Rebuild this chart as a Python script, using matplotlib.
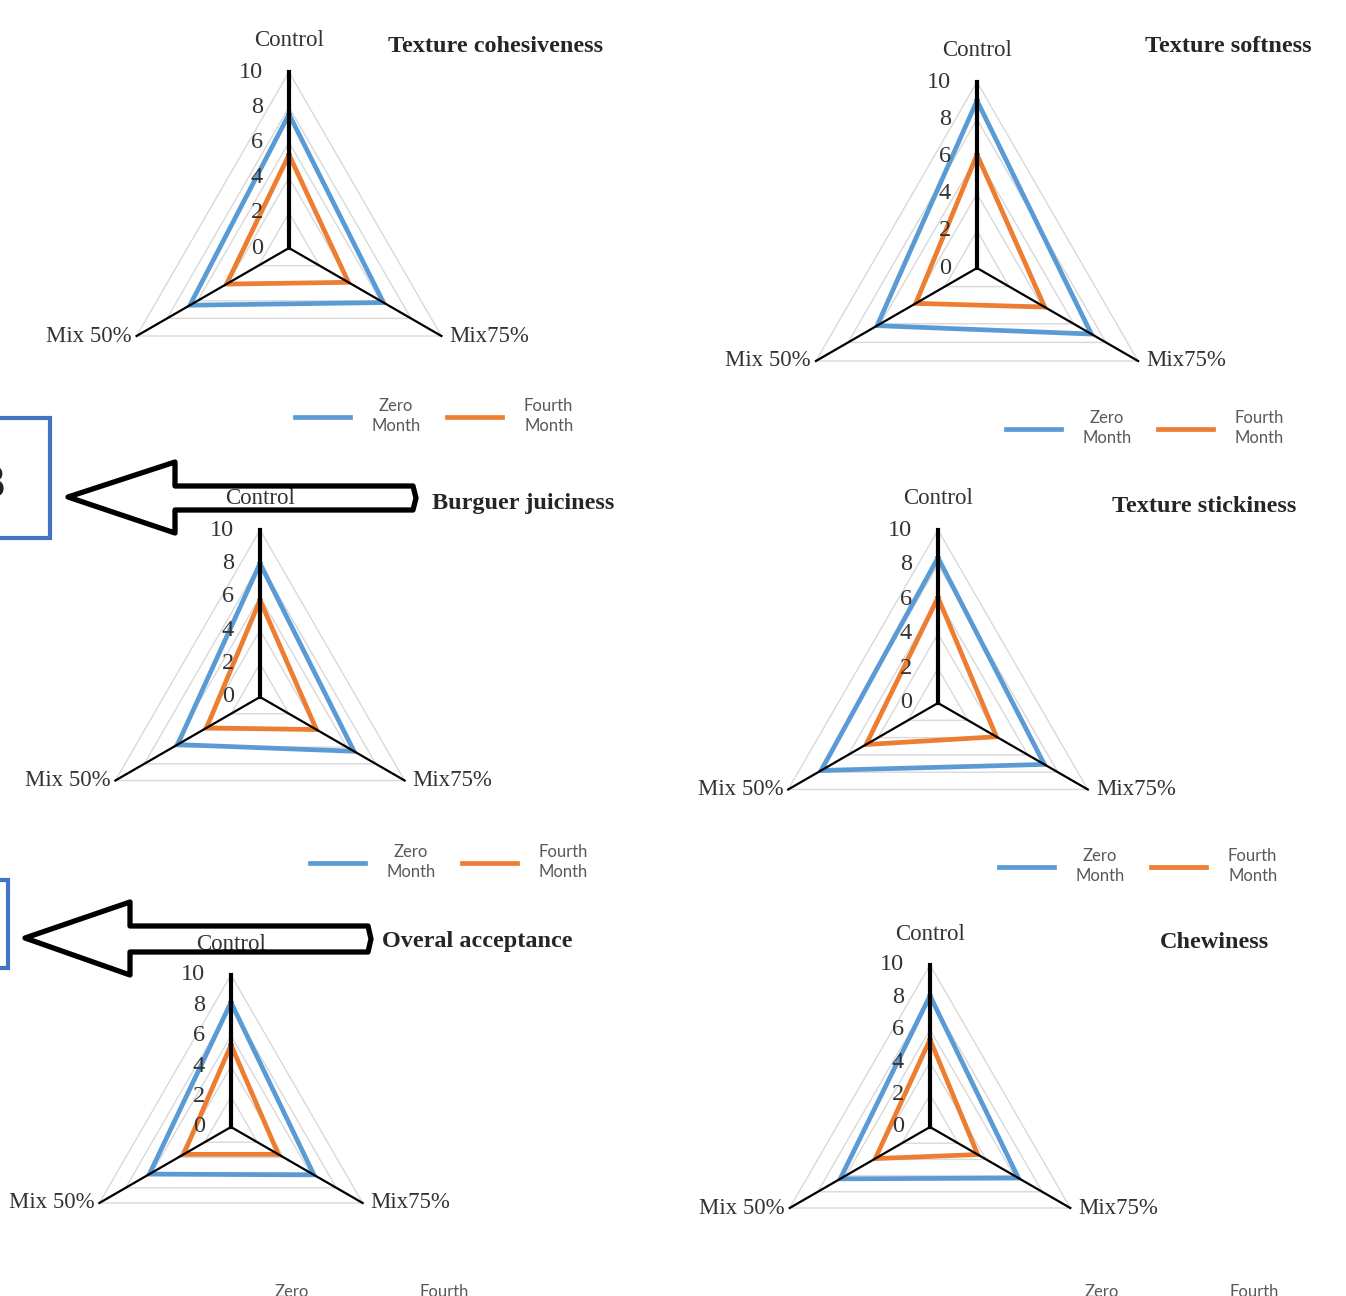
import numpy as np
import matplotlib.pyplot as plt
from matplotlib.patches import Polygon, Rectangle
from matplotlib.lines import Line2D

plt.rcParams['font.family'] = ['Liberation Serif', 'DejaVu Serif']

## Data ##
axis_labels = ['Control', 'Mix75%', 'Mix 50%']
ticks = [0, 2, 4, 6, 8, 10]
series_names = ['Zero\nMonth', 'Fourth\nMonth']
titles = ['Texture cohesiveness', 'Texture softness', 'Burguer juiciness',
          'Texture stickiness', 'Overal acceptance', 'Chewiness']
# values per panel: [Control, Mix75%, Mix 50%]
zero_month = [[7.6, 6.2, 6.5], [9.0, 7.1, 6.2], [8.0, 6.5, 5.7],
              [8.4, 7.1, 7.8], [8.2, 6.3, 6.2], [8.1, 6.3, 6.4]]
fourth_month = [[5.3, 3.9, 4.1], [6.1, 4.2, 3.8], [5.8, 3.9, 3.7],
                [6.1, 3.9, 4.8], [5.4, 3.6, 3.6], [5.4, 3.4, 3.9]]

## Layout (pixels, y from top) ##
W, H = 1346, 1296
centers = [(289, 248), (977, 268), (260, 697), (938, 703), (231, 1127), (930, 1127)]
radii = [176, 186, 167, 173, 152, 162]
title_pos = [(388, 47), (1145, 47), (432, 504), (1112, 507), (382, 942), (1160, 942)]
legend_pos = [(434, 416), (1145, 428), (449, 862), (1138, 866), (330, 1302), (1140, 1302)]

angles = np.deg2rad([90, -30, 210])
colors = ['#5b9bd5', '#ed7d31']


def fx(x):
    return x / W


def fy(y):
    return 1 - y / H


fig = plt.figure(figsize=(W / 100, H / 100), dpi=100)

for i in range(6):
    cx, cy = centers[i]
    R = radii[i]
    a = 1.3 * R
    ax = fig.add_axes([fx(cx - a), fy(cy + a), 2 * a / W, 2 * a / H])
    lim = 10 * a / R
    ax.set_xlim(-lim, lim)
    ax.set_ylim(-lim, lim)
    ax.axis('off')

    # grid triangles
    for t in ticks[1:]:
        ax.add_patch(Polygon(np.c_[t * np.cos(angles), t * np.sin(angles)], closed=True,
                             fill=False, edgecolor='#d9d9d9', lw=1, zorder=1, clip_on=False))

    # series
    handles = []
    for vals, col in zip([zero_month[i], fourth_month[i]], colors):
        v = np.array(vals + vals[:1])
        ang = np.r_[angles, angles[:1]]
        ax.plot(v * np.cos(ang), v * np.sin(ang), color=col, lw=3.4,
                solid_joinstyle='miter', zorder=2, clip_on=False)
        handles.append(Line2D([], [], color=col, lw=3.4))

    # spokes
    for k, ang in enumerate(angles):
        ax.plot([0, 10 * np.cos(ang)], [0, 10 * np.sin(ang)], color='black',
                lw=3 if k == 0 else 1.6, zorder=3, clip_on=False)

    # tick labels on Control axis
    for t in ticks:
        ax.annotate(str(t), (0, t), xytext=(-26, 0), textcoords='offset pixels',
                    ha='right', va='center', fontsize=17.5, color='#333333')

    # category labels
    ax.annotate(axis_labels[0], (0, 10), xytext=(0, 31), textcoords='offset pixels',
                ha='center', va='center', fontsize=16.5, color='#333333')
    ax.annotate(axis_labels[1], (10 * np.cos(angles[1]), 10 * np.sin(angles[1])),
                xytext=(8, 0), textcoords='offset pixels',
                ha='left', va='center', fontsize=16.5, color='#333333')
    ax.annotate(axis_labels[2], (10 * np.cos(angles[2]), 10 * np.sin(angles[2])),
                xytext=(-5, 0), textcoords='offset pixels',
                ha='right', va='center', fontsize=16.5, color='#333333')

    # title
    tx, ty = title_pos[i]
    fig.text(fx(tx), fy(ty), titles[i], ha='left', va='center', fontsize=17.5,
             fontweight='bold', color='#262626')

    # legend
    lx, ly = legend_pos[i]
    leg = ax.legend(handles, series_names, ncol=2, loc='center',
                    bbox_to_anchor=(fx(lx), fy(ly)), bbox_transform=fig.transFigure,
                    frameon=False, handlelength=3.3, handletextpad=1.3,
                    columnspacing=1.6, prop={'family': 'Lato', 'size': 12})
    for txt in leg.get_texts():
        txt.set_multialignment('center')
        txt.set_color('#595959')
        txt.set_linespacing(1.35)

## Annotation boxes and arrows ##
boxes = [(-60, 418, 110, 120), (-60, 880, 68, 88)]
for bx, by, bw, bh in boxes:
    fig.patches.append(Rectangle((fx(bx), fy(by + bh)), bw / W, bh / H, fill=False,
                                 edgecolor='#4472c4', lw=3, transform=fig.transFigure))
fig.text(fx(6), fy(485), 'B', ha='right', va='center', fontsize=30,
         family='DejaVu Sans', color='#222222')

arrows = [
    [(68, 497), (175, 462), (175, 486), (413, 486), (416, 498), (413, 510), (175, 510), (175, 533)],
    [(25, 938), (130, 902), (130, 926), (368, 926), (371, 939), (368, 952), (130, 952), (130, 975)],
]
for pts in arrows:
    fig.patches.append(Polygon([(fx(x), fy(y)) for x, y in pts], closed=True, fill=False,
                               edgecolor='black', lw=3.8, joinstyle='round',
                               transform=fig.transFigure))

fig.savefig('out.png', dpi=100, facecolor='white')
